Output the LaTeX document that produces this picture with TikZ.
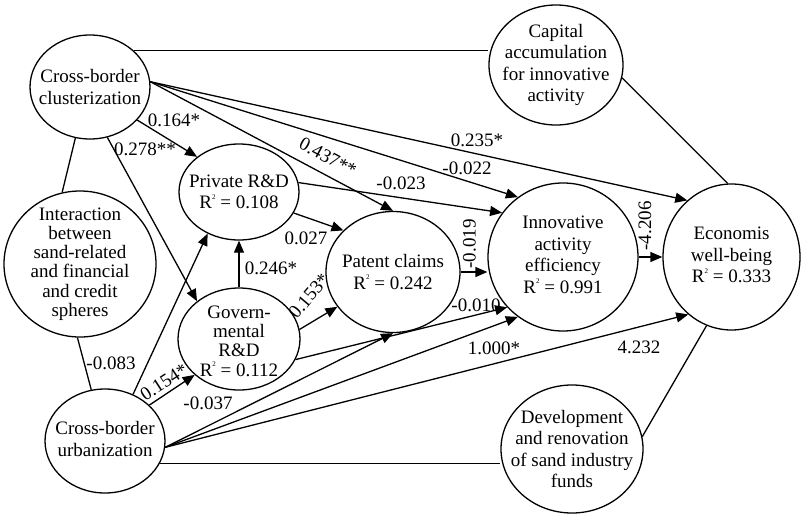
\documentclass[tikz,border=0pt]{standalone}
\usepackage{fontspec}
\setmainfont{Liberation Serif}
\usetikzlibrary{shapes.geometric,arrows.meta}
\newcommand{\Rsq}{R\raisebox{0.5em}{\fontsize{7}{7}\selectfont 2}}
\begin{document}
\begin{tikzpicture}[x=1pt,y=-1pt,
  bub/.style={ellipse, draw, line width=1.3pt, inner sep=0pt},
  txt/.style={align=center, inner sep=0pt, font=\fontsize{19}{21.5}\selectfont},
  tight/.style={font=\fontsize{19}{19.3}\selectfont},
  lab/.style={inner sep=0pt, font=\fontsize{19}{21}\selectfont},
  con/.style={line width=1.3pt},
  arr/.style={con, -{Triangle[length=12pt,width=10pt]}}]
\useasboundingbox (0,0) rectangle (802,514);
\fill[white] (0,0) rectangle (802,514);

% nodes
\node[bub, minimum width=120pt, minimum height=104pt] (clu) at (90,87) {};
\node[txt] (clut) at (clu) {Cross-border\\clusterization};
\node[bub, minimum width=134pt, minimum height=120pt] (cap) at (556,65) {};
\node[txt] (capt) at (cap) {Capital\\accumulation\\for innovative\\activity};
\node[bub, minimum width=152pt, minimum height=146pt] (inter) at (80,264) {};
\node[txt, tight] (intert) at (inter) {Interaction\\between\\sand-related\\and financial\\and credit\\spheres};
\node[bub, minimum width=120pt, minimum height=96pt] (priv) at (239,192) {};
\node[txt] (privt) at (priv) {Private R\&D\\\Rsq{} = 0.108};
\node[bub, minimum width=122pt, minimum height=102pt] (gov) at (239,339) {};
\node[txt, tight] (govt) at ([yshift=-2pt]gov.center) {Govern-\\mental\\R\&D\\\Rsq{} = 0.112};
\node[bub, minimum width=134pt, minimum height=121pt] (pat) at (393,272) {};
\node[txt] (patt) at (pat) {Patent claims\\\Rsq{} = 0.242};
\node[bub, minimum width=150pt, minimum height=148pt] (inn) at (563,257) {};
\node[txt] (innt) at ([yshift=2pt]inn.center) {Innovative\\activity\\efficiency\\\Rsq{} = 0.991};
\node[bub, minimum width=137pt, minimum height=146pt] (eco) at (731.5,257) {};
\node[txt] (ecot) at ([yshift=2pt]eco.center) {Economis\\well-being\\\Rsq{} = 0.333};
\node[bub, minimum width=120pt, minimum height=104pt] (urb) at (105,441) {};
\node[txt] (urbt) at ([yshift=2pt]urb.center) {Cross-border\\urbanization};
\node[bub, minimum width=142pt, minimum height=128pt] (dev) at (572,449) {};
\node[txt] (devt) at (dev) {Development\\and renovation\\of sand industry\\funds};

% plain connectors
\draw[con] (clu.40) -- (clu.40 -| cap.west);
\draw[con] (cap.-11) -- (eco.93);
\draw[con] (urb.-22) -- (urb.-22 -| dev.west);
\draw[con] (dev.10) -- (eco.-110);
\draw[con] (clu.-106) -- (inter.104);
\draw[con] (inter.-92) -- (urb.105);

% arrows
\draw[arr] (clu.-35) -- (priv.140);
\draw[arr] (clu.-71) -- (gov.138);
\draw[arr] (clu.5) -- (pat.north);
\draw[arr] (clu.5) -- (inn.127);
\draw[arr] (clu.5) -- (eco.128);
\draw[arr] (priv.9) -- (inn.144);
\draw[arr] (priv.-21) -- (pat.140);
\draw[arr] (gov.north) -- (priv.south);
\draw[arr] (gov.9) -- (pat.-148);
\draw[arr] (gov.-20) -- (inn.-138);
\draw[arr] (urb.39) -- (gov.-141);
\draw[arr] (urb.59) -- (priv.-127);
\draw[arr] (urb.-6) -- (pat.south);
\draw[arr] (urb.-6) -- (inn.-127);
\draw[arr] (urb.-6) -- (eco.-127);
\draw[arr] (pat.east) -- (pat.east -| inn.west);
\draw[arr] (inn.east) -- (eco.west);

% labels
\node[lab] (l1) at (174,120) {0.164*};
\node[lab] (l2) at (145,149) {0.278**};
\node[lab, rotate=-28] (l3) at (328,157) {0.437**};
\node[lab] (l4) at (467,168) {-0.022};
\node[lab] (l5) at (477,140) {0.235*};
\node[lab] (l6) at (401,183) {-0.023};
\node[lab] (l7) at (306,238) {0.027};
\node[lab] (l8) at (271,268) {0.246*};
\node[lab, rotate=50] (l9) at (309,296) {0.153*};
\node[lab] (l10) at (476,305) {-0.010};
\node[lab, rotate=90] (l11) at (469.5,244) {-0.019};
\node[lab, rotate=90] (l12) at (645,226) {-4.206};
\node[lab] (l13) at (494,348) {1.000*};
\node[lab] (l14) at (639,347) {4.232};
\node[lab] (l15) at (111,363) {-0.083};
\node[lab, rotate=33] (l16) at (164,382) {0.154*};
\node[lab] (l17) at (208,403) {-0.037};
\end{tikzpicture}
\end{document}
